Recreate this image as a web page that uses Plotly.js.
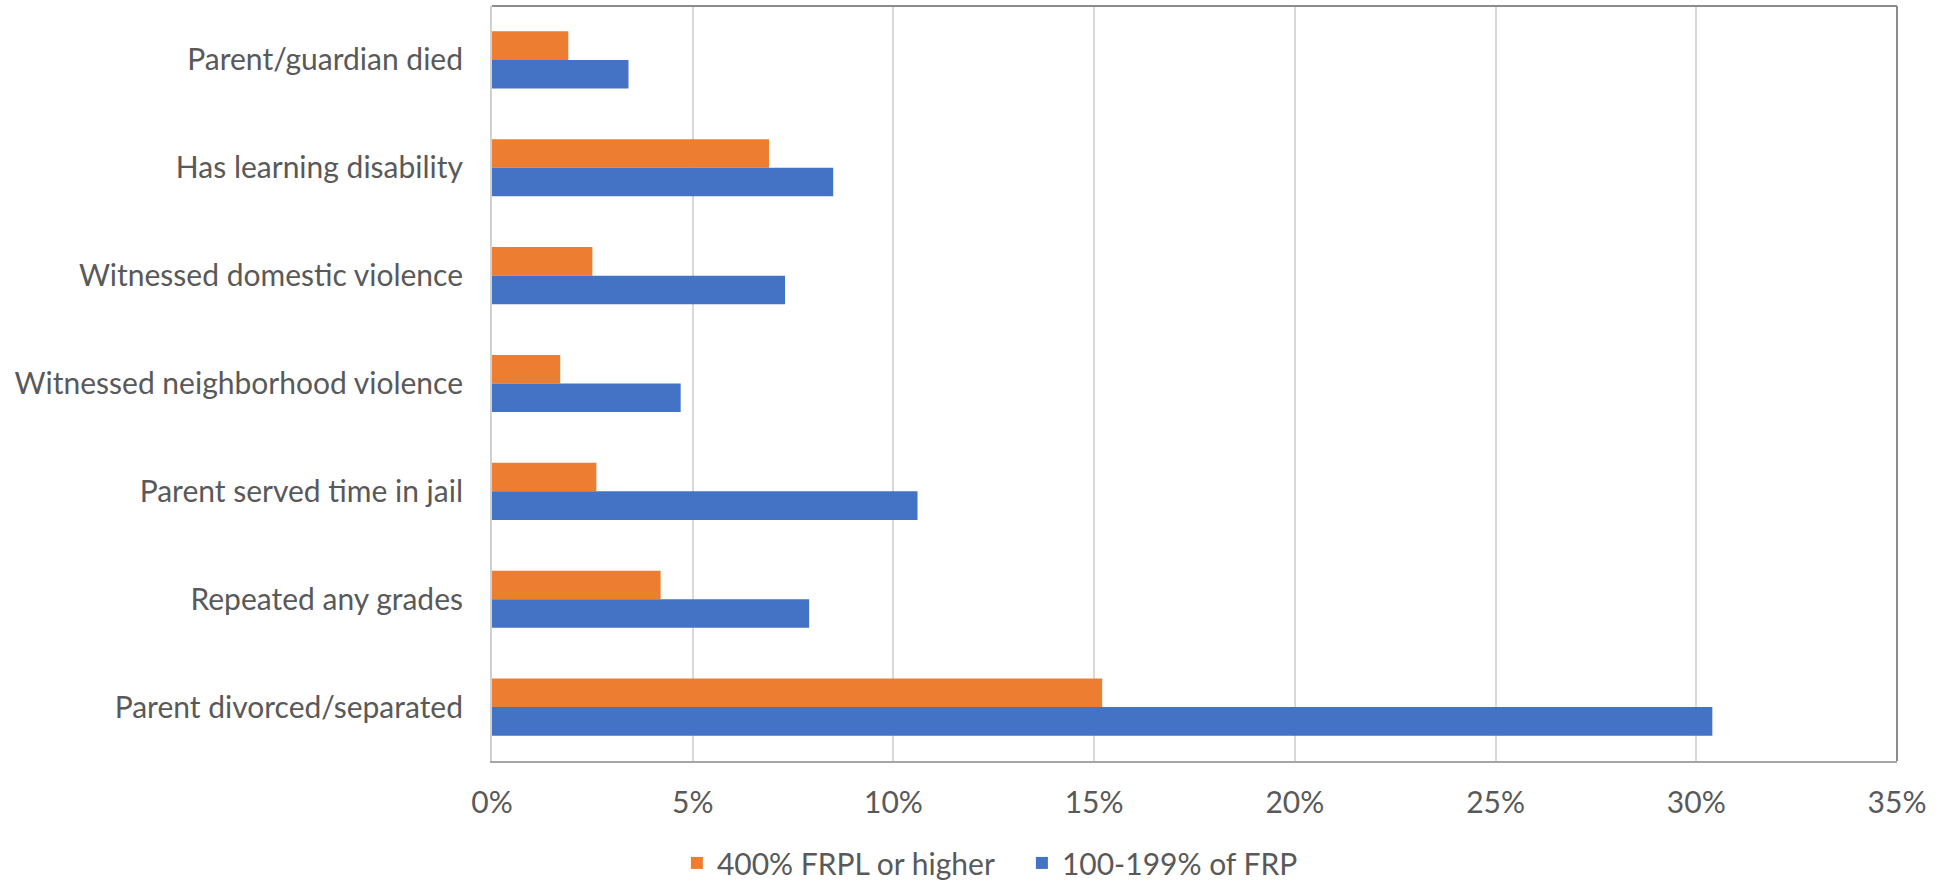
<!DOCTYPE html>
<html>
<head>
<meta charset="utf-8">
<script src="https://cdn.plot.ly/plotly-3.0.1.min.js"></script>
<style>
  html, body { margin: 0; padding: 0; background: #ffffff; }
  #chart { width: 1939px; height: 882px; }
</style>
</head>
<body>
<div id="chart"></div>
<script>
const categories = [
  "Parent/guardian died",
  "Has learning disability",
  "Witnessed domestic violence",
  "Witnessed neighborhood violence",
  "Parent served time in jail",
  "Repeated any grades",
  "Parent divorced/separated"
];
const seriesNames = ["400% FRPL or higher", "100-199% of FRP"];
const highIncome = [1.9, 6.9, 2.5, 1.7, 2.6, 4.2, 15.2];
const lowIncome = [3.4, 8.5, 7.3, 4.7, 10.6, 7.9, 30.4];
const xTickValues = [0, 5, 10, 15, 20, 25, 30, 35];
const xTickLabels = ["0%", "5%", "10%", "15%", "20%", "25%", "30%", "35%"];

const textColor = "#595959";
const fontFamily = "Lato, 'Open Sans', sans-serif";
const fontSize = 30;

const traces = [
  {
    type: "bar",
    orientation: "h",
    name: seriesNames[0],
    y: categories,
    x: highIncome,
    marker: { color: "#ED7D31", line: { width: 0 } },
    hoverinfo: "x+y"
  },
  {
    type: "bar",
    orientation: "h",
    name: seriesNames[1],
    y: categories,
    x: lowIncome,
    marker: { color: "#4472C4", line: { width: 0 } },
    hoverinfo: "x+y"
  }
];

const layout = {
  width: 1939,
  height: 882,
  margin: { l: 492, r: 42, t: 6, b: 121, pad: 0, autoexpand: false },
  paper_bgcolor: "#ffffff",
  plot_bgcolor: "#ffffff",
  font: { family: fontFamily, size: fontSize, color: textColor },
  barmode: "group",
  bargap: 0.47,
  bargroupgap: 0,
  showlegend: true,
  legend: {
    orientation: "h",
    x: 0.1316,
    xanchor: "left",
    y: -0.135,
    yanchor: "middle",
    entrywidth: 300,
    entrywidthmode: "pixels",
    font: { family: fontFamily, size: fontSize, color: textColor },
    traceorder: "normal"
  },
  xaxis: {
    range: [0, 35],
    tickvals: xTickValues,
    ticktext: xTickLabels,
    showgrid: true,
    gridcolor: "#d9d9d9",
    gridwidth: 2,
    zeroline: false,
    showline: true,
    linecolor: "#a6a6a6",
    linewidth: 2,
    ticks: "",
    ticklabelstandoff: 14,
    tickfont: { family: fontFamily, size: fontSize, color: textColor },
    automargin: false,
    fixedrange: true
  },
  yaxis: {
    type: "category",
    autorange: "reversed",
    showgrid: false,
    zeroline: false,
    showline: true,
    linecolor: "#d0d0d0",
    linewidth: 2,
    ticks: "",
    ticklabelstandoff: 21,
    tickfont: { family: fontFamily, size: fontSize, color: textColor },
    automargin: false,
    fixedrange: true
  },
  shapes: [
    {
      type: "line", xref: "paper", yref: "paper",
      x0: 0, x1: 1, y0: 1, y1: 1,
      line: { color: "#8c8c8c", width: 2 }
    },
    {
      type: "line", xref: "paper", yref: "paper",
      x0: 1, x1: 1, y0: 0, y1: 1,
      line: { color: "#8c8c8c", width: 2 }
    }
  ]
};

Plotly.newPlot("chart", traces, layout, { displayModeBar: false, staticPlot: true });
</script>
</body>
</html>
